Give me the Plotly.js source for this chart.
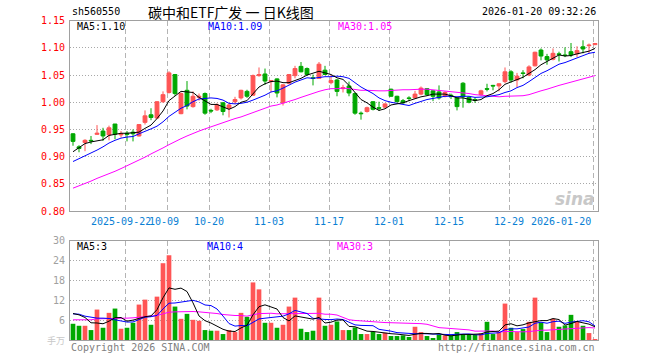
<!DOCTYPE html>
<html><head><meta charset="utf-8">
<script src="https://cdn.plot.ly/plotly-3.0.1.min.js"></script>
<style>html,body{margin:0;padding:0;background:#fff;}#chart{width:660px;height:360px;}</style>
</head><body><div id="chart"></div>
<script>
const dates = ['2025-09-09','2025-09-10','2025-09-11','2025-09-12','2025-09-15','2025-09-16','2025-09-17','2025-09-18','2025-09-19',
'2025-09-22','2025-09-23','2025-09-24','2025-09-25','2025-09-26','2025-09-29','2025-09-30',
'2025-10-09','2025-10-10','2025-10-13','2025-10-14','2025-10-15','2025-10-16','2025-10-17','2025-10-20','2025-10-21','2025-10-22','2025-10-23','2025-10-24','2025-10-27','2025-10-28','2025-10-29','2025-10-30','2025-10-31',
'2025-11-03','2025-11-04','2025-11-05','2025-11-06','2025-11-07','2025-11-10','2025-11-11','2025-11-12','2025-11-13','2025-11-14','2025-11-17','2025-11-18','2025-11-19','2025-11-20','2025-11-21','2025-11-24','2025-11-25','2025-11-26','2025-11-27','2025-11-28',
'2025-12-01','2025-12-02','2025-12-03','2025-12-04','2025-12-05','2025-12-08','2025-12-09','2025-12-10','2025-12-11','2025-12-12','2025-12-15','2025-12-16','2025-12-17','2025-12-18','2025-12-19','2025-12-22','2025-12-23','2025-12-24','2025-12-25','2025-12-26','2025-12-29','2025-12-30','2025-12-31',
'2026-01-05','2026-01-06','2026-01-07','2026-01-08','2026-01-09','2026-01-12','2026-01-13','2026-01-14','2026-01-15','2026-01-16','2026-01-19','2026-01-20'];

const openP = [0.942,0.918,0.926,0.930,0.941,0.947,0.940,0.960,0.940,0.943,
0.945,0.938,0.963,0.977,0.971,1.001,1.018,1.051,0.979,1.022,
0.992,1.009,1.016,0.985,0.986,0.999,0.989,1.001,1.008,1.020,
1.013,1.049,1.052,1.038,1.043,0.999,1.035,1.049,1.066,1.062,
1.045,1.044,1.059,1.036,1.041,1.025,1.030,1.016,0.980,0.983,
1.001,0.990,0.991,1.024,1.011,1.003,1.008,1.008,1.015,1.025,
1.021,1.019,1.011,1.013,1.008,1.035,1.009,1.005,1.014,1.025,
1.031,1.030,1.038,1.056,1.041,1.054,1.050,1.067,1.096,1.084,
1.079,1.089,1.087,1.093,1.089,1.102,1.104,1.106];
const highP = [0.943,0.921,0.932,0.938,0.958,0.953,0.957,0.960,0.947,0.947,
0.950,0.960,0.985,0.989,1.002,1.020,1.057,1.052,1.018,1.039,
1.020,1.016,1.018,0.988,0.998,1.000,0.998,1.010,1.023,1.023,
1.051,1.064,1.062,1.041,1.044,1.033,1.052,1.067,1.074,1.064,
1.051,1.074,1.067,1.050,1.043,1.032,1.038,1.018,0.983,0.992,
1.002,1.001,0.998,1.025,1.012,1.006,1.011,1.021,1.029,1.026,
1.022,1.031,1.020,1.016,1.010,1.037,1.011,1.009,1.023,1.034,
1.032,1.035,1.064,1.059,1.054,1.059,1.068,1.093,1.099,1.089,
1.099,1.093,1.101,1.109,1.103,1.114,1.108,1.109];
const lowP = [0.920,0.908,0.910,0.923,0.940,0.929,0.930,0.932,0.935,0.928,
0.928,0.937,0.959,0.967,0.969,0.999,1.016,1.012,0.978,0.987,
0.990,1.003,0.977,0.980,0.984,0.976,0.972,0.997,1.005,1.008,
1.012,1.047,1.032,1.018,1.009,0.994,1.033,1.044,1.055,1.049,
1.031,1.043,1.050,1.033,1.011,1.018,1.011,0.977,0.968,0.981,
0.985,0.984,0.989,1.010,1.000,0.997,1.002,1.007,1.013,1.012,
1.002,1.005,1.009,1.006,0.985,0.990,0.998,0.999,1.012,1.020,
1.022,1.020,1.035,1.036,1.028,1.044,1.048,1.066,1.077,1.069,
1.077,1.075,1.083,1.083,1.083,1.090,1.090,1.105];
const closeP = [0.928,0.915,0.930,0.929,0.943,0.938,0.953,0.941,0.942,0.941,
0.942,0.959,0.975,0.972,1.001,1.014,1.054,1.016,1.016,0.993,
1.011,1.011,0.980,0.984,0.995,0.983,0.995,1.005,1.022,1.011,
1.049,1.051,1.039,1.040,1.017,1.032,1.051,1.062,1.056,1.051,
1.044,1.070,1.051,1.040,1.020,1.027,1.017,0.980,0.979,0.990,
0.987,0.989,0.997,1.011,1.001,0.999,1.007,1.015,1.026,1.014,
1.011,1.008,1.018,1.011,0.992,1.010,1.000,1.004,1.021,1.024,
1.030,1.034,1.056,1.041,1.048,1.053,1.065,1.092,1.085,1.078,
1.090,1.088,1.086,1.087,1.095,1.098,1.105,1.108];

const ma5P = [0.909,0.917,0.924,0.927,0.929,0.931,0.939,0.941,0.943,0.943,
0.944,0.945,0.952,0.958,0.970,0.984,1.003,1.011,1.020,1.019,
1.018,1.009,1.002,0.996,0.996,0.991,0.987,0.992,1.000,1.003,
1.016,1.028,1.034,1.038,1.039,1.036,1.036,1.040,1.044,1.050,
1.053,1.057,1.054,1.051,1.045,1.042,1.031,1.017,1.005,0.999,
0.991,0.985,0.988,0.995,0.997,0.999,1.003,1.007,1.010,1.012,
1.015,1.015,1.015,1.012,1.008,1.008,1.006,1.003,1.005,1.012,
1.016,1.023,1.033,1.037,1.042,1.046,1.053,1.060,1.069,1.075,
1.082,1.087,1.085,1.086,1.089,1.091,1.094,1.099];
const ma10P = [0.891,0.896,0.901,0.906,0.912,0.918,0.925,0.930,0.934,0.936,
0.937,0.942,0.946,0.951,0.956,0.964,0.974,0.982,0.989,0.994,
1.001,1.006,1.007,1.008,1.007,1.004,0.998,0.997,0.998,1.000,
1.004,1.008,1.013,1.019,1.021,1.026,1.032,1.037,1.041,1.045,
1.044,1.046,1.047,1.047,1.048,1.047,1.044,1.036,1.028,1.022,
1.016,1.008,1.003,1.000,0.998,0.995,0.994,0.998,1.002,1.005,
1.007,1.009,1.011,1.011,1.010,1.011,1.011,1.009,1.009,1.010,
1.012,1.014,1.018,1.021,1.027,1.031,1.038,1.046,1.053,1.058,
1.064,1.070,1.073,1.077,1.082,1.086,1.090,1.092];
const ma30P = [0.842,0.846,0.851,0.855,0.860,0.864,0.869,0.873,0.878,0.883,
0.888,0.894,0.899,0.905,0.910,0.916,0.922,0.928,0.933,0.938,
0.943,0.947,0.951,0.955,0.959,0.963,0.967,0.970,0.973,0.977,
0.981,0.985,0.989,0.993,0.995,0.998,1.001,1.005,1.009,1.013,
1.016,1.020,1.023,1.025,1.025,1.026,1.025,1.023,1.022,1.022,
1.021,1.021,1.021,1.022,1.022,1.023,1.023,1.024,1.024,1.024,
1.023,1.021,1.020,1.019,1.019,1.018,1.016,1.014,1.013,1.012,
1.012,1.010,1.011,1.011,1.012,1.012,1.014,1.018,1.021,1.024,
1.028,1.031,1.034,1.037,1.040,1.043,1.046,1.049];

const volume = [4.9,4.3,4.3,3.0,9.2,3.7,8.2,9.5,3.4,3.7,
5.2,10.7,12.2,4.6,13.1,23.2,25.6,10.1,6.4,7.9,
6.1,5.8,3.0,2.8,2.8,1.8,3.0,2.4,8.2,7.0,
17.4,15.3,5.2,5.2,3.7,4.6,10.1,12.8,3.4,2.4,
2.8,12.8,4.3,4.6,5.6,3.0,3.0,3.8,1.8,1.8,
2.5,1.8,2.2,1.2,1.2,1.4,0.9,4.0,2.4,1.2,
0.6,1.7,1.4,1.4,2.4,1.6,1.6,1.6,2.0,5.5,
1.8,2.5,11.0,3.7,2.4,3.3,5.5,12.8,5.3,2.4,
6.4,4.0,4.4,7.6,5.6,4.3,2.1,0.3];
const ma5V = [8.0,7.6,6.8,5.2,5.14,4.9,5.68,6.72,6.8,5.7,
6.0,6.5,7.04,7.28,9.16,12.76,15.74,15.32,15.68,14.64,
11.22,7.26,5.84,5.12,4.1,3.24,2.68,2.56,3.64,4.48,
7.6,10.06,10.62,10.02,9.36,6.8,5.76,7.28,6.92,6.66,
6.3,6.84,5.14,5.38,6.02,6.06,4.1,4.0,3.44,2.68,
2.58,2.34,2.02,1.9,1.78,1.56,1.38,1.74,1.98,1.98,
1.82,1.98,1.46,1.26,1.5,1.7,1.68,1.72,1.84,2.46,
2.5,2.68,4.56,4.9,4.28,4.58,5.18,5.54,5.86,5.86,
6.48,6.18,4.5,4.96,5.6,5.18,4.8,3.98];
const ma10V = [7.9,7.8,7.2,6.8,6.6,6.6,6.5,6.1,5.8,5.42,
5.45,6.09,6.88,7.04,7.43,9.38,11.12,11.18,11.48,11.9,
11.99,11.5,10.58,10.4,9.37,7.23,4.97,4.2,4.38,4.29,
5.42,6.37,6.59,6.83,6.92,7.2,7.91,8.95,8.47,8.01,
6.55,6.3,6.21,6.15,6.34,6.18,5.47,4.57,4.41,4.35,
4.32,3.22,3.01,2.67,2.23,2.07,1.86,1.88,1.94,1.88,
1.69,1.68,1.6,1.62,1.74,1.76,1.83,1.59,1.55,1.98,
2.1,2.18,3.14,3.37,3.37,3.54,3.93,5.05,5.38,5.07,
5.53,5.68,5.02,5.41,5.73,5.83,5.49,4.24];
const ma30V = [6.1,6.1,6.0,6.1,6.4,6.4,6.5,6.6,6.6,6.6,
6.7,6.9,7.1,7.1,7.4,7.9,8.4,8.5,8.6,8.6,
8.6,8.5,8.4,8.2,8.0,7.7,7.5,7.4,7.4,7.2,
7.62,7.99,8.02,8.09,7.91,7.94,8.0,8.11,8.11,8.07,
7.99,8.06,7.79,7.79,7.54,6.87,6.12,5.91,5.75,5.55,
5.43,5.3,5.27,5.22,5.16,5.15,5.08,5.13,4.94,4.75,
4.19,3.73,3.61,3.48,3.44,3.34,3.05,2.68,2.63,2.74,
2.7,2.36,2.58,2.55,2.45,2.46,2.54,2.84,2.96,2.98,
3.11,3.18,3.25,3.47,3.61,3.71,3.75,3.63];

const tickDates = ['2025-09-22','2025-10-09','2025-10-20','2025-11-03','2025-11-17','2025-12-01','2025-12-15','2025-12-29','2026-01-20'];
const tickLabels = ['2025-09-22','10-09','10-20','11-03','11-17','12-01','12-15','12-29','2026-01-20'];
const priceTicks = [0.80,0.85,0.90,0.95,1.00,1.05,1.10,1.15];
const priceTickText = ['0.80','0.85','0.90','0.95','1.00','1.05','1.10','1.15'];
const volTicks = [0,6,12,18,24,30];
const volTickText = ['\u624b\u4e07','6','12','18','24','30'];

const title = '碳中和ETF广发 一 日K线图';
const code = 'sh560550';
const stamp = '2026-01-20 09:32:26';
const legendP = ['MA5:1.10','MA10:1.09','MA30:1.05'];
const legendV = ['MA5:3','MA10:4','MA30:3'];

const RED = '#ff5555', GREEN = '#00a800';
const MONO = 'DejaVu Sans Mono, Liberation Mono, monospace';
const idx = dates.map((d,i)=>i);
const tickIdx = tickDates.map(d => dates.indexOf(d));
const gridIdx = tickIdx.map(i => i - 0.33);

const L = 70, R = 598, W = 660, H = 360;
const px = x => (x - L) / (R - L);
const py = y => 1 - y / H;

const traces = [
  {type:'candlestick', x: idx, open: openP, high: highP, low: lowP, close: closeP, xaxis:'x', yaxis:'y',
   increasing:{line:{color:RED,width:1}, fillcolor:RED},
   decreasing:{line:{color:GREEN,width:1}, fillcolor:GREEN},
   whiskerwidth:0, showlegend:false, hoverinfo:'skip'},
  {type:'scatter', mode:'lines', x: idx, y: ma30P, line:{color:'#ff00ff',width:1}, xaxis:'x', yaxis:'y', hoverinfo:'skip'},
  {type:'scatter', mode:'lines', x: idx, y: ma10P, line:{color:'#0000ff',width:1}, xaxis:'x', yaxis:'y', hoverinfo:'skip'},
  {type:'scatter', mode:'lines', x: idx, y: ma5P, line:{color:'#000000',width:1}, xaxis:'x', yaxis:'y', hoverinfo:'skip'},
  {type:'bar', x: idx, y: volume, width:0.78, xaxis:'x2', yaxis:'y2',
   marker:{color: idx.map(i => closeP[i] >= openP[i] ? RED : GREEN), line:{width:0}}, hoverinfo:'skip'},
  {type:'scatter', mode:'lines', x: idx, y: ma30V, line:{color:'#ff00ff',width:1}, xaxis:'x2', yaxis:'y2', hoverinfo:'skip'},
  {type:'scatter', mode:'lines', x: idx, y: ma10V, line:{color:'#0000ff',width:1}, xaxis:'x2', yaxis:'y2', hoverinfo:'skip'},
  {type:'scatter', mode:'lines', x: idx, y: ma5V, line:{color:'#000000',width:1}, xaxis:'x2', yaxis:'y2', hoverinfo:'skip'}
];

const xCommon = {range:[-0.5, idx.length-0.5], tickmode:'array', tickvals: gridIdx, showticklabels:false, ticks:'',
  showgrid:true, gridcolor:'#b4b4b4', gridwidth:1, griddash:'5px,3px', zeroline:false,
  showline:true, mirror:true, linecolor:'#a0a0a0', linewidth:1, fixedrange:true, rangeslider:{visible:false}};

const ann = [];
const tx = (x, y, text, color, size, xanchor, family) => ann.push({xref:'paper', yref:'paper', x: px(x), y: py(y), text, showarrow:false,
  xanchor: xanchor || 'left', yanchor:'middle', font:{family: family || MONO, size: size || 10, color: color || '#000'}});

tx(70, 12, code, '#000', 10, 'left');
tx(231, 12, title, '#000', 14, 'center', 'Noto Sans CJK SC, sans-serif');
tx(598, 12, stamp, '#000', 10, 'right');
tx(75, 27, legendP[0], '#000'); tx(206, 27, legendP[1], '#0000ff'); tx(336, 27, legendP[2], '#ff00ff');
tx(75, 246, legendV[0], '#000'); tx(205, 246, legendV[1], '#0000ff'); tx(335, 246, legendV[2], '#ff00ff');
tx(69, 347, 'Copyright 2026 SINA.COM', '#808080');
tx(597, 347, 'http://finance.sina.com.cn', '#808080', 10, 'right');
tx(597, 199, '<i><b>sina</b></i>', '#c8c8c8', 17, 'right', 'DejaVu Sans, sans-serif');
// x tick labels (below price panel)
tickIdx.forEach((k, j) => {
  const xc = L + (k + 0.5) * 6 - 2;
  let anchor = 'center', xp = xc;
  if (j === 0) xp = xc - 4;
  if (j === 1) xp = xc - 3;
  if (j === tickIdx.length - 1) { anchor = 'right'; xp = xc; }
  tx(xp, 221, tickLabels[j], '#0a7fd4', 10, anchor);
});
// y tick labels as text: price (red) and volume (grey)
priceTicks.forEach((v, j) => ann.push({xref:'paper', yref:'y', x: px(67), y: v, text: priceTickText[j], showarrow:false,
  xanchor:'right', yanchor:'middle', font:{family:MONO, size:10, color:'#ff0000'}}));
volTicks.forEach((v, j) => ann.push({xref:'paper', yref:'y2', x: px(67), y: v, text: volTickText[j], showarrow:false,
  xanchor:'right', yanchor:'middle', font:{family: j === 0 ? 'Noto Sans CJK SC, sans-serif' : MONO, size: j === 0 ? 9 : 10, color: j === 0 ? '#c8c8c8' : '#a0a0a0'}}));

const layout = {
  width: W, height: H, margin:{l:L, r:W-R, t:0, b:0}, paper_bgcolor:'#fff', plot_bgcolor:'#fff',
  showlegend:false, boxgap:0.2, boxgroupgap:0.2, dragmode:false,
  font:{family: MONO, size:10},
  xaxis: Object.assign({}, xCommon, {anchor:'y', domain:[0,1]}),
  xaxis2: Object.assign({}, xCommon, {anchor:'y2', domain:[0,1], matches:'x'}),
  yaxis: {domain:[py(211), py(20.7)], range:[0.80,1.15], tickmode:'array', tickvals: priceTicks, showticklabels:false,
    showgrid:true, gridcolor:'#a8a8a8', griddash:'1px,2px', zeroline:false, ticks:'',
    showline:true, mirror:true, linecolor:'#a0a0a0', fixedrange:true, anchor:'x'},
  yaxis2: {domain:[py(340), py(240.7)], range:[0,30], tickmode:'array', tickvals: volTicks, showticklabels:false,
    showgrid:true, gridcolor:'#a8a8a8', griddash:'1px,2px', zeroline:false, ticks:'',
    showline:true, mirror:true, linecolor:'#a0a0a0', fixedrange:true, anchor:'x2'},
  annotations: ann
};

Plotly.newPlot('chart', traces, layout, {staticPlot:true, displayModeBar:false});
</script>
</body></html>
